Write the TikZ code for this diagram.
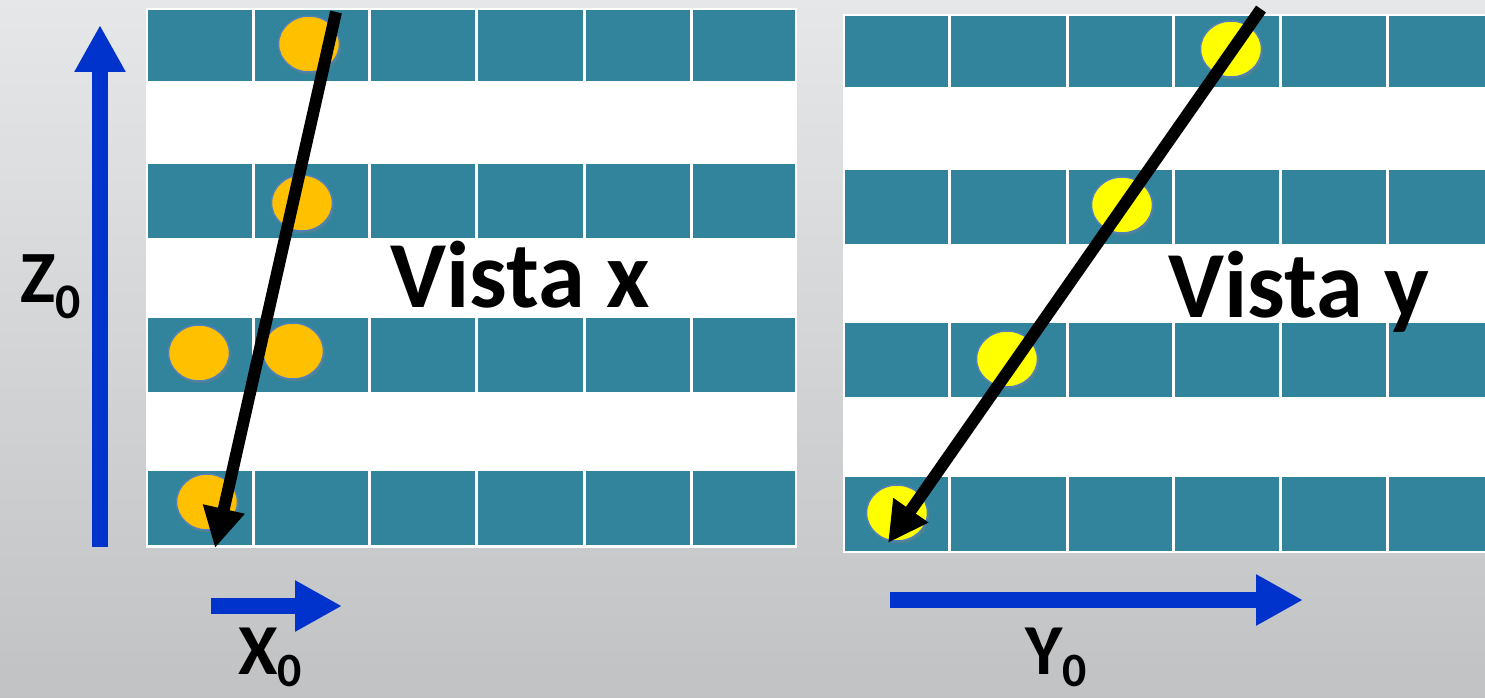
\documentclass[tikz,border=0pt]{standalone}
\usepackage{fontspec}
\setmainfont{Carlito}
\usetikzlibrary{arrows.meta,shapes.geometric,shadows}
\definecolor{cellteal}{RGB}{49,132,155}
\definecolor{axisblue}{RGB}{0,51,204}
\definecolor{dotorange}{RGB}{255,192,0}
\definecolor{dotyellow}{RGB}{255,255,0}
\definecolor{dotrim}{RGB}{79,129,189}
\begin{document}
\begin{tikzpicture}[x=1bp, y=-1bp,
    cell/.style={fill=cellteal},
    dot/.style={ellipse, inner sep=0pt, minimum width=61bp, minimum height=56bp, draw=dotrim, line width=1.5bp,
      drop shadow={shadow xshift=1.5bp, shadow yshift=-2.5bp, opacity=0.35}},
    dotx/.style={dot, fill=dotorange},
    doty/.style={dot, fill=dotyellow},
    track/.style={line width=12bp, -{Triangle[length=40bp,width=40bp]}},
    axis/.style={draw=axisblue, line width=16bp, -{Triangle[length=47bp,width=48bp]}},
    lbl/.style={anchor=base west, inner sep=0pt, font=\bfseries}]
    \useasboundingbox (0,0) rectangle (1485,698);
    \shade[top color={rgb,255:red,229;green,231;blue,233}, bottom color={rgb,255:red,193;green,194;blue,196}] (0,0) rectangle (1485,698);
    % panels
    \fill[white] (146,8) rectangle (797,548);
    \fill[white] (843,14) rectangle (1495,553);
    \foreach \ya/\yb in {10/81,164/238,318/392,471/545}
        \foreach \xa/\xb in {148/252,255/368,371/475,478/583,586/690,693/795}
            \fill[cell] (\xa,\ya) rectangle (\xb,\yb);
    \foreach \ya/\yb in {16/87,170/244,323/397,477/551}
        \foreach \xa/\xb in {845/948,951/1066,1069/1172,1175/1279,1282/1386,1389/1495}
            \fill[cell] (\xa,\ya) rectangle (\xb,\yb);
    % hits
    \node[dotx] (x1) at (309,44) {};
    \node[dotx] (x2) at (302,203) {};
    \node[dotx] (x3) at (199,353) {};
    \node[dotx] (x4) at (293,351) {};
    \node[dotx] (x5) at (207,502) {};
    \node[doty] (y1) at (1231,49) {};
    \node[doty] (y2) at (1122,205) {};
    \node[doty] (y3) at (1007,359) {};
    \node[doty] (y4) at (897,513) {};
    % tracks
    \coordinate (tx0) at (336,12);
    \coordinate (tx1) at (215,548);
    \coordinate (ty0) at (1261,9);
    \coordinate (ty1) at (888,543);
    \draw[track] (tx0) -- (tx1);
    \draw[track] (ty0) -- (ty1);
    % axes
    \coordinate (z0) at (100,547);
    \coordinate (z1) at (100,25);
    \coordinate (xa0) at (211,606);
    \coordinate (xa1) at (342,606);
    \coordinate (ya0) at (890,600);
    \coordinate (ya1) at (1303,600);
    \draw[axis] (z0) -- (z1);
    \draw[axis] (xa0) -- (xa1);
    \draw[axis] (ya0) -- (ya1);
    \node[lbl] (vx) at (390,307) {\fontsize{95}{95}\selectfont Vista x};
    \node[lbl] (vy) at (1168,317) {\fontsize{95}{95}\selectfont Vista y};
    \node[lbl] (zl) at (20,302) {\fontsize{74}{74}\selectfont Z{\fontsize{50}{50}\selectfont\raisebox{-16bp}{0}}};
    \node[lbl] (xl) at (238,674) {\fontsize{72}{72}\selectfont X{\fontsize{48}{48}\selectfont\raisebox{-12bp}{0}}};
    \node[lbl] (yl) at (1025,674) {\fontsize{72}{72}\selectfont Y{\fontsize{48}{48}\selectfont\raisebox{-12bp}{0}}};
\end{tikzpicture}
\end{document}
